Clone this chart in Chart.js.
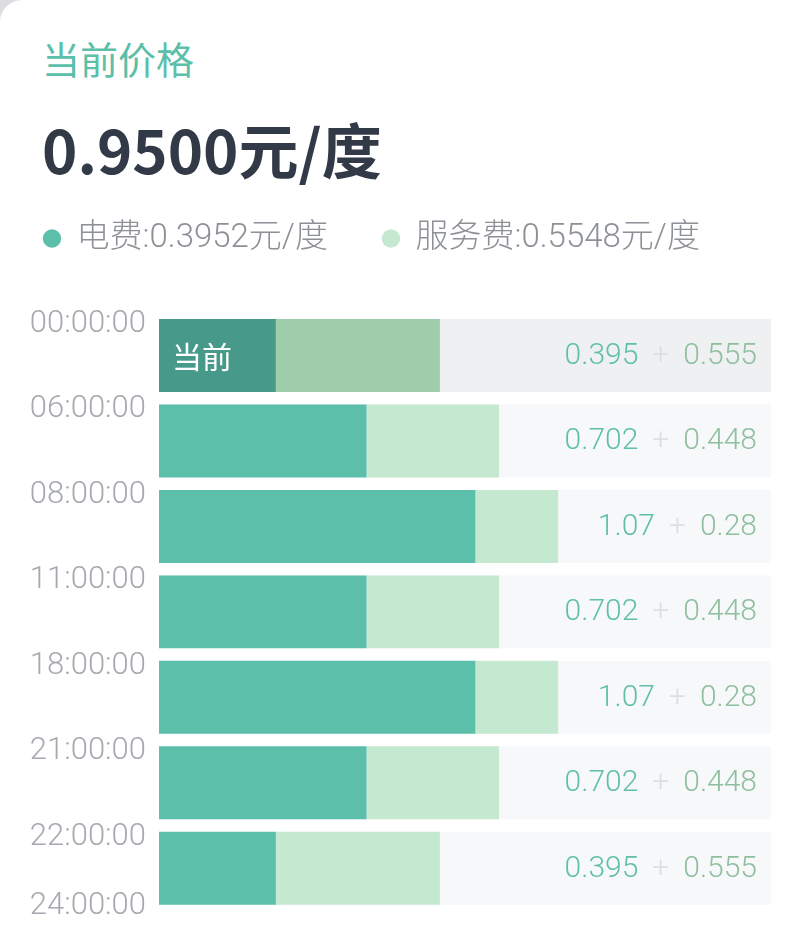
<!DOCTYPE html>
<html>
<head>
<meta charset="utf-8">
<title>当前价格</title>
<script src="https://cdn.jsdelivr.net/npm/chart.js@4/dist/chart.umd.min.js"></script>
<style>
  html, body { margin: 0; padding: 0; background: #dcdde0; }
  .card {
    position: relative;
    width: 786px;
    height: 941px;
    background: #ffffff;
    border-top-left-radius: 22px;
    overflow: hidden;
    font-family: "Noto Sans CJK SC", sans-serif;
  }
  .title {
    position: absolute;
    left: 42px;
    top: 38px;
    font-size: 38px;
    line-height: 40px;
    color: #5bbfa9;
  }
  .price {
    position: absolute;
    left: 42px;
    top: 112px;
    font-size: 60px;
    line-height: 72px;
    font-weight: 700;
    color: #333a47;
  }
  .chart-box {
    position: absolute;
    left: 0;
    top: 160px;
    width: 786px;
    height: 781px;
  }
</style>
</head>
<body>
<div class="card">
  <div class="title">当前价格</div>
  <div class="price">0.9500元/度</div>
  <div class="chart-box"><canvas id="priceChart"></canvas></div>
</div>
<script>
// 时段 (边界)
const times = ["00:00:00", "06:00:00", "08:00:00", "11:00:00", "18:00:00", "21:00:00", "22:00:00", "24:00:00"];
const periods = ["00-06", "06-08", "08-11", "11-18", "18-21", "21-22", "22-24"];
// 电费 / 服务费 (元/度)
const electricFee = [0.3952, 0.702, 1.07, 0.702, 1.07, 0.702, 0.3952];
const serviceFee = [0.5548, 0.448, 0.28, 0.448, 0.28, 0.448, 0.5548];
const currentIndex = 0;
const currentElectric = 0.3952;
const currentService = 0.5548;
const xMax = 2.07;

const electricColor = "#5bbfa9";
const serviceColor = "#c5e9d0";

const fmt = (v) => String(Number(v.toFixed(3)));

Chart.defaults.font.family = "Roboto, 'Noto Sans CJK SC', sans-serif";

// 背景条
const trackPlugin = {
  id: "track",
  beforeDatasetsDraw(chart) {
    const { ctx, chartArea } = chart;
    const bars = chart.getDatasetMeta(0).data;
    ctx.save();
    bars.forEach((bar, i) => {
      ctx.fillStyle = i === currentIndex ? "#eff0f2" : "#f7f8fa";
      ctx.fillRect(chartArea.left, bar.y - bar.height / 2, chartArea.right - chartArea.left, bar.height);
    });
    ctx.restore();
  },
};

// 时间刻度, 数值文字, "当前"
const labelPlugin = {
  id: "labels",
  afterDatasetsDraw(chart) {
    const { ctx, chartArea } = chart;
    const bars = chart.getDatasetMeta(0).data;
    ctx.save();
    ctx.textBaseline = "middle";

    ctx.font = "300 31px Roboto, 'Noto Sans CJK SC', sans-serif";
    ctx.fillStyle = "#a6aab0";
    ctx.textAlign = "right";
    times.forEach((t, i) => {
      let y;
      if (i < bars.length) {
        y = bars[i].y - bars[i].height / 2 + 5;
      } else {
        const last = bars[bars.length - 1];
        y = last.y + last.height / 2 + 1;
      }
      ctx.fillText(t, chartArea.left - 13, y);
    });

    bars.forEach((bar, i) => {
      const right = chartArea.right - 14;
      const sTxt = fmt(serviceFee[i]);
      const eTxt = fmt(electricFee[i]);
      ctx.font = "300 30px Roboto, sans-serif";
      const sW = ctx.measureText(sTxt).width;
      const pW = ctx.measureText("+").width;
      ctx.fillStyle = "#8fbf9f";
      ctx.fillText(sTxt, right, bar.y + 1);
      ctx.fillStyle = "#dcdfe2";
      ctx.fillText("+", right - sW - 14, bar.y + 1);
      ctx.fillStyle = "#5fbfaa";
      ctx.fillText(eTxt, right - sW - 14 - pW - 14, bar.y + 1);
    });

    const cur = bars[currentIndex];
    ctx.textAlign = "left";
    ctx.fillStyle = "#ffffff";
    ctx.font = "30px 'Noto Sans CJK SC', sans-serif";
    ctx.fillText("当前", chartArea.left + 13, cur.y + 1);
    ctx.restore();
  },
};

const ctx = document.getElementById("priceChart").getContext("2d");

new Chart(ctx, {
  type: "bar",
  data: {
    labels: periods,
    datasets: [
      {
        label: "电费:" + currentElectric.toFixed(4) + "元/度",
        data: electricFee,
        backgroundColor: (c) => (c.dataIndex === currentIndex ? "#47998a" : electricColor),
        borderWidth: 0,
        categoryPercentage: 1,
        barPercentage: 0.854,
      },
      {
        label: "服务费:" + currentService.toFixed(4) + "元/度",
        data: serviceFee,
        backgroundColor: (c) => (c.dataIndex === currentIndex ? "#9fcdab" : serviceColor),
        borderWidth: 0,
        categoryPercentage: 1,
        barPercentage: 0.854,
      },
    ],
  },
  options: {
    indexAxis: "y",
    responsive: true,
    maintainAspectRatio: false,
    animation: false,
    layout: { padding: { left: -11, right: 15, top: 7, bottom: 30 } },
    scales: {
      x: {
        position: "top",
        stacked: true,
        min: 0,
        max: xMax,
        ticks: { display: false },
        grid: { display: false },
        border: { display: false },
        afterFit: (scale) => { scale.height = 47.75; },
      },
      y: {
        stacked: true,
        ticks: { display: false },
        grid: { display: false },
        border: { display: false },
        afterFit: (scale) => { scale.width = 170; },
      },
    },
    plugins: {
      legend: {
        position: "top",
        align: "start",
        labels: {
          usePointStyle: true,
          pointStyle: "circle",
          boxWidth: 16,
          boxHeight: 13,
          padding: 55,
          color: "#8d9197",
          font: { size: 33, weight: 300 },
          generateLabels: (chart) => {
            const items = Chart.defaults.plugins.legend.labels.generateLabels(chart);
            const colors = [electricColor, serviceColor];
            items.forEach((item, i) => {
              item.fillStyle = colors[i];
              item.strokeStyle = colors[i];
              item.lineWidth = 0;
            });
            return items;
          },
        },
      },
      tooltip: { enabled: false },
    },
  },
  plugins: [trackPlugin, labelPlugin],
});
</script>
</body>
</html>
